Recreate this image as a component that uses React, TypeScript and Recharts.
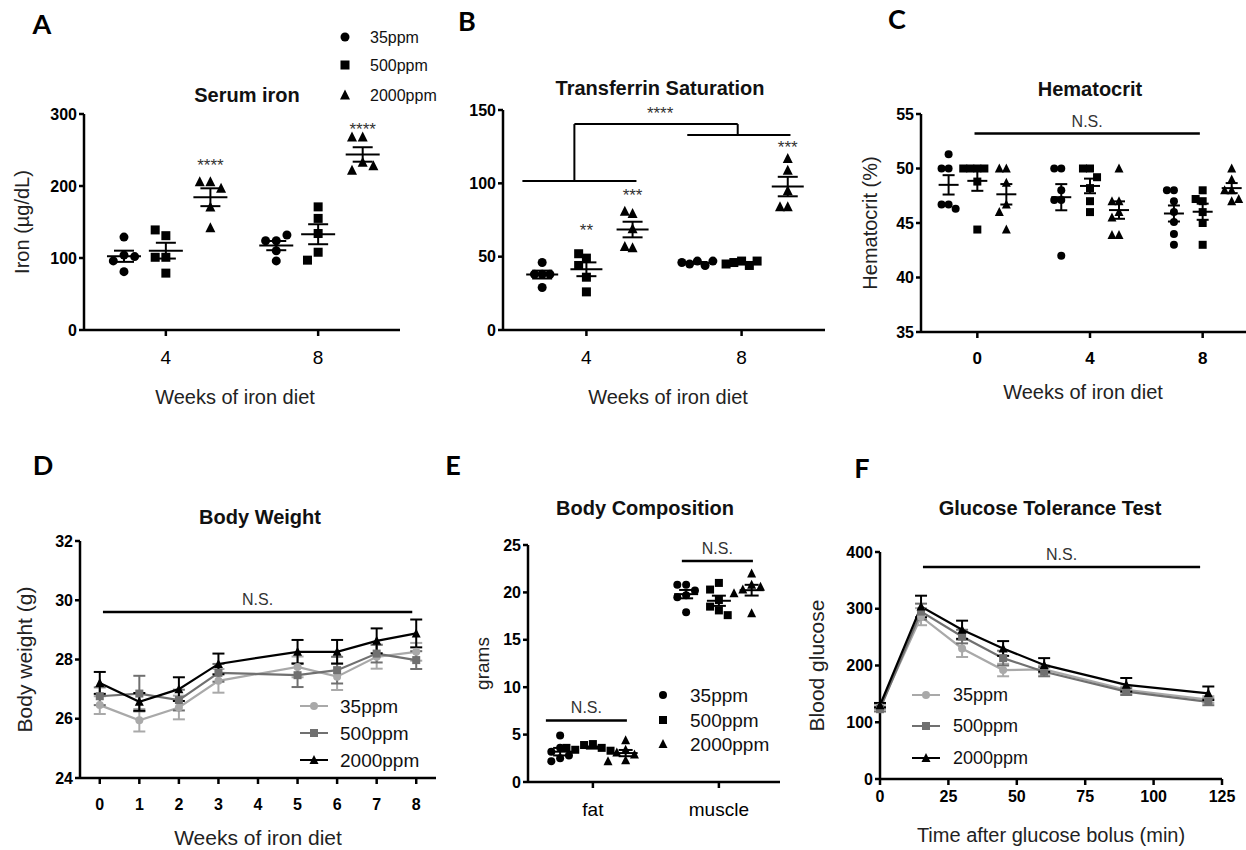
import React from 'react';
import {
  ScatterChart,
  Scatter,
  LineChart,
  Line,
  XAxis,
  YAxis,
  ErrorBar,
  ReferenceLine,
  ReferenceDot,
  Legend,
} from 'recharts';

const FONT = '"Liberation Sans", Arial, Helvetica, sans-serif';
const doses = ['35ppm', '500ppm', '2000ppm'];

// A: serum iron (ug/dL), one row per week, 5 mice each
const ironWeeks = [4, 8];
const iron35 = [[129, 81, 104, 96, 102], [124, 124, 132, 110, 96]];
const iron500 = [[131, 139, 101, 101, 79], [171, 155, 134, 108, 97]];
const iron2000 = [[206, 206, 197, 171, 142], [268, 268, 233, 222, 228]];
const ironStars = [
  { x: 5.17, y: 229, text: '****' },
  { x: 9.17, y: 279, text: '****' },
];

// B: transferrin saturation (%)
const satWeeks = [4, 8];
const sat35 = [[46, 38, 38, 29, 38], [47, 45, 44, 46, 47]];
const sat500 = [[49, 52, 44, 36, 26], [47, 46, 44, 45, 47]];
const sat2000 = [[79.5, 81, 69, 56, 57], [117, 109, 95, 84, 84]];
const satStars = [
  { x: 4, y: 68, text: '**' },
  { x: 5.19, y: 92, text: '***' },
  { x: 9.19, y: 125, text: '***' },
  { x: 5.9, y: 148, text: '****' },
];
const satBrackets = [
  [[2.35, 101.6], [5.29, 101.6]],
  [[3.69, 101.6], [3.69, 140.4]],
  [[3.69, 140.4], [7.9, 140.4]],
  [[7.9, 140.4], [7.9, 133]],
  [[6.6, 133], [9.26, 133]],
];

// C: hematocrit (%)
const hctWeeks = [0, 4, 8];
const hct35 = [[51.3, 50, 50, 46.7, 46.7, 46.3], [50, 50, 48, 47.1, 47.1, 42], [48, 48, 47, 46, 45.1, 44, 43]];
const hct500 = [[50, 50, 50, 50, 48.8, 44.4], [50, 50, 49.2, 48.2, 47, 46], [48, 47.2, 47, 46, 45, 43]];
const hct2000 = [[50, 50, 48.7, 46.7, 46, 44.4], [50, 47, 47, 46, 45.5, 43.9, 43.9], [50, 49, 48, 48, 47.2, 47]];
const hctNS = [[-0.1, 53.2], [7.9, 53.2]];

// D: body weight (g), mean and SEM
const bwWeeks = [0, 1, 2, 3, 5, 6, 7, 8];
const bwTicks = [0, 1, 2, 3, 4, 5, 6, 7, 8];
const bw35 = [26.46, 25.95, 26.38, 27.28, 27.75, 27.42, 28.09, 28.26];
const bw500 = [26.76, 26.85, 26.63, 27.55, 27.47, 27.64, 28.2, 27.98];
const bw2000 = [27.21, 26.57, 27.0, 27.85, 28.26, 28.26, 28.63, 28.88];
const bw35Sem = [0.3, 0.38, 0.4, 0.4, 0.35, 0.45, 0.4, 0.3];
const bw500Sem = [0.3, 0.6, 0.35, 0.3, 0.4, 0.45, 0.3, 0.3];
const bw2000Sem = [0.37, 0.3, 0.4, 0.35, 0.4, 0.4, 0.42, 0.47];
const bwNS = [[0.08, 29.6], [7.9, 29.6]];

// E: body composition (g)
const compParts = ['fat', 'muscle'];
const comp35 = [[4.9, 3.6, 3.2, 2.8, 2.5, 2.2], [20.8, 20.8, 20.2, 19.7, 19.5, 17.9]];
const comp500 = [[4.0, 3.9, 3.6, 3.4, 3.3, 3.6], [21, 20.3, 19.2, 18.5, 18.1, 17.6]];
const comp2000 = [[4.4, 3.4, 3.1, 2.9, 2.3, 2.2], [22, 20.8, 20.3, 20.6, 19.9, 17.8]];
const compNS = [
  [[0.627, 6.5], [1.27, 6.5]],
  [[1.706, 23.3], [2.27, 23.3]],
];

// F: glucose tolerance test, mean and SEM
const gttTimes = [0, 15, 30, 45, 60, 90, 120];
const gttTicks = [0, 25, 50, 75, 100, 125];
const gtt35 = [127, 286, 230, 192, 193, 157, 140];
const gtt500 = [123, 295, 251, 213, 189, 154, 136];
const gtt2000 = [130, 304, 263, 230, 201, 166, 151];
const gtt35Sem = [4, 15, 15, 11, 7, 6, 6];
const gtt500Sem = [4, 14, 12, 13, 8, 6, 6];
const gtt2000Sem = [4, 19, 16, 13, 12, 12, 12];
const gttNS = [[15.7, 373.6], [117, 373.6]];

const BLACK = '#000';
const GREYS = ['#a9a9a9', '#707070', '#000'];
const NOTE = '#333';
const axisStroke = { stroke: BLACK, strokeWidth: 2.5 };

const YW = 60;
const ML = 20;
const MT = 12;
const MR = 30;
const XH = 80;

type Box = [number, number, number, number];
type Frame = { left: number; top: number; width: number; height: number; margin: any };

const frame = (b: Box): Frame => ({
  left: b[0] - YW - ML,
  top: b[1] - MT,
  width: ML + YW + (b[2] - b[0]) + MR,
  height: MT + (b[3] - b[1]) + XH,
  margin: { top: MT, right: MR, bottom: 0, left: ML },
});

const mean = (v: number[]) => v.reduce((a, b) => a + b, 0) / v.length;
const sem = (v: number[]) => {
  const m = mean(v);
  const sd = Math.sqrt(v.reduce((a, b) => a + (b - m) ** 2, 0) / (v.length - 1));
  return sd / Math.sqrt(v.length);
};

// push overlapping dots sideways, like a GraphPad scatter dot plot
const slots = [0, -1, 1, -2, 2, -3, 3];
function spread(values: number[], center: number, yTol: number, step: number) {
  const placed: { x: number; y: number; slot: number }[] = [];
  values.forEach((y) => {
    const used = placed.filter((p) => Math.abs(p.y - y) < yTol).map((p) => p.slot);
    const slot = slots.find((s) => !used.includes(s)) ?? 0;
    placed.push({ x: center + slot * step, y, slot });
  });
  return placed;
}

function Mark({ cx, cy, kind, size, fill }: any) {
  if (cx == null || cy == null) return null;
  const h = size / 2;
  if (kind === 0) return <circle cx={cx} cy={cy} r={h} fill={fill} />;
  if (kind === 1) return <rect x={cx - h} y={cy - h} width={size} height={size} fill={fill} />;
  return (
    <polygon
      points={`${cx},${cy - h - 1} ${cx - h - 0.5},${cy + h} ${cx + h + 0.5},${cy + h}`}
      fill={fill}
    />
  );
}

type LegendSpec = { markerX: number; textX: number; rows: number[]; fontSize: number; size: number; line?: boolean };

function doseLegend(spec: LegendSpec, f: Frame) {
  const x0 = spec.markerX - 20;
  const y0 = spec.rows[0] - 16;
  const w = 150;
  const h = spec.rows[spec.rows.length - 1] - y0 + 16;
  return (
    <Legend
      layout="vertical"
      align="center"
      verticalAlign="middle"
      wrapperStyle={{ left: x0 - f.left, top: y0 - f.top, width: w, height: h }}
      content={() => (
        <svg width={w} height={h} style={{ display: 'block', overflow: 'visible' }}>
          {doses.map((d, i) => {
            const mx = spec.markerX - x0;
            const my = spec.rows[i] - y0;
            const color = spec.line ? GREYS[i] : BLACK;
            return (
              <g key={d}>
                {spec.line && <line x1={mx - 14} x2={mx + 14} y1={my} y2={my} stroke={color} strokeWidth={2} />}
                <Mark cx={mx} cy={my} kind={i} size={spec.size} fill={color} />
                <text x={spec.textX - x0} y={my} dy="0.36em" fontSize={spec.fontSize} fill="#111">
                  {d}
                </text>
              </g>
            );
          })}
        </svg>
      )}
    />
  );
}

const yLabelProps = (value: string, box: Box, x: number, size: number) => ({
  value,
  angle: -90,
  position: 'insideLeft',
  offset: x - box[0] + YW,
  fontSize: size,
  fill: '#222',
  style: { textAnchor: 'middle' },
});

const xLabelProps = (value: string, box: Box, y: number, size: number, dx = 0) => ({
  value,
  position: 'insideBottom',
  offset: box[3] + XH - y - size * 0.36,
  fontSize: size,
  fill: '#222',
  dx,
});

const segment = (s: number[][]) => [
  { x: s[0][0], y: s[0][1] },
  { x: s[1][0], y: s[1][1] },
];

type AxisSpec = {
  box: Box;
  xDomain: [number, number];
  xTicks: number[];
  tickFormat?: (v: number) => string;
  xTick: any;
  xTickMargin: number;
  yDomain: [number, number];
  yTicks: number[];
  yLabel?: string;
  yLabelX?: number;
  yLabelSize?: number;
  xLabel?: string;
  xLabelY?: number;
  xLabelSize?: number;
  xLabelDx?: number;
};

const boldTick = { fill: BLACK, fontSize: 16, fontWeight: 700 };

function axes(p: AxisSpec, yKey?: string) {
  return [
    <XAxis
      key="x"
      type="number"
      dataKey="x"
      domain={p.xDomain}
      ticks={p.xTicks}
      interval={0}
      tickFormatter={p.tickFormat}
      height={XH}
      axisLine={axisStroke}
      tickLine={axisStroke}
      tickSize={6}
      tickMargin={p.xTickMargin}
      tick={p.xTick}
      label={p.xLabel ? xLabelProps(p.xLabel, p.box, p.xLabelY!, p.xLabelSize ?? 20, p.xLabelDx) : undefined}
    />,
    <YAxis
      key="y"
      type="number"
      dataKey={yKey}
      domain={p.yDomain}
      ticks={p.yTicks}
      interval={0}
      width={YW}
      axisLine={axisStroke}
      tickLine={axisStroke}
      tickSize={5}
      tickMargin={2}
      tick={boldTick}
      label={p.yLabel ? yLabelProps(p.yLabel, p.box, p.yLabelX!, p.yLabelSize ?? 20) : undefined}
    />,
  ];
}

type DotPlotProps = AxisSpec & {
  series: number[][][];
  offsets: number[];
  yTol: number;
  step: number;
  size: number;
  meanHalf: number;
  capHalf: number;
  legend?: LegendSpec;
  children?: React.ReactNode;
};

function DotPlot(p: DotPlotProps) {
  const f = frame(p.box);
  return (
    <div style={{ position: 'absolute', left: f.left, top: f.top }}>
      <ScatterChart width={f.width} height={f.height} margin={f.margin}>
        {axes(p, 'y')}
        {p.children}
        {p.series.map((byGroup, d) => (
          <Scatter
            key={doses[d]}
            name={doses[d]}
            isAnimationActive={false}
            data={byGroup.flatMap((vals, g) => spread(vals, p.xTicks[g] + p.offsets[d], p.yTol, p.step))}
            shape={(s: any) => <Mark cx={s.cx} cy={s.cy} kind={d} size={p.size} fill={BLACK} />}
          />
        ))}
        {p.series.map((byGroup, d) => (
          <Scatter
            key={`mean-${doses[d]}`}
            legendType="none"
            isAnimationActive={false}
            data={byGroup.map((vals, g) => ({ x: p.xTicks[g] + p.offsets[d], y: mean(vals), sem: sem(vals) }))}
            shape={(s: any) => (
              <line x1={s.cx - p.meanHalf} x2={s.cx + p.meanHalf} y1={s.cy} y2={s.cy} stroke={BLACK} strokeWidth={2} />
            )}
          >
            <ErrorBar dataKey="sem" direction="y" width={p.capHalf} stroke={BLACK} strokeWidth={2} />
          </Scatter>
        ))}
        {p.legend && doseLegend(p.legend, f)}
      </ScatterChart>
    </div>
  );
}

type LinePlotProps = AxisSpec & {
  xs: number[];
  series: number[][];
  errors: number[][];
  size: number;
  capHalf: number;
  legend: LegendSpec;
  children?: React.ReactNode;
};

function LinePlot(p: LinePlotProps) {
  const f = frame(p.box);
  const table = p.xs.map((x, i) => ({
    x,
    v0: p.series[0][i],
    v1: p.series[1][i],
    v2: p.series[2][i],
    e0: p.errors[0][i],
    e1: p.errors[1][i],
    e2: p.errors[2][i],
  }));
  return (
    <div style={{ position: 'absolute', left: f.left, top: f.top }}>
      <LineChart width={f.width} height={f.height} margin={f.margin} data={table}>
        {axes(p)}
        {p.children}
        {doses.map((d, i) => (
          <Line
            key={d}
            name={d}
            dataKey={`v${i}`}
            type="linear"
            stroke={GREYS[i]}
            strokeWidth={2.2}
            isAnimationActive={false}
            activeDot={false}
            dot={(s: any) => <Mark key={`${d}-${s.index}`} cx={s.cx} cy={s.cy} kind={i} size={p.size} fill={GREYS[i]} />}
          >
            <ErrorBar dataKey={`e${i}`} direction="y" width={p.capHalf} stroke={GREYS[i]} strokeWidth={2} />
          </Line>
        ))}
        {doseLegend(p.legend, f)}
      </LineChart>
    </div>
  );
}

const nsLabel = { value: 'N.S.', position: 'top', offset: 7, fontSize: 16, fill: NOTE };
const starLabel = (text: string) => ({ value: text, position: 'center', fontSize: 17, fill: NOTE });

const panelLetters = [
  { text: 'A', x: 42, y: 23 },
  { text: 'B', x: 467, y: 20 },
  { text: 'C', x: 897, y: 18 },
  { text: 'D', x: 43, y: 464 },
  { text: 'E', x: 453, y: 464 },
  { text: 'F', x: 862, y: 467 },
];
const panelTitles = [
  { text: 'Serum iron', x: 247, y: 95 },
  { text: 'Transferrin Saturation', x: 660, y: 88 },
  { text: 'Hematocrit', x: 1090, y: 89 },
  { text: 'Body Weight', x: 260, y: 517 },
  { text: 'Body Composition', x: 645, y: 508 },
  { text: 'Glucose Tolerance Test', x: 1050, y: 508 },
];

const centered = (x: number, y: number): React.CSSProperties => ({
  position: 'absolute',
  left: x,
  top: y,
  transform: 'translate(-50%, -50%)',
  whiteSpace: 'nowrap',
  lineHeight: 1,
});

export default function App() {
  return (
    <div
      style={{
        position: 'absolute',
        left: 0,
        top: 0,
        width: 1246,
        height: 850,
        overflow: 'hidden',
        background: '#fff',
        fontFamily: FONT,
      }}
    >
      <DotPlot
        box={[84, 114, 400, 330]}
        xDomain={[1.85, 10.15]}
        xTicks={ironWeeks}
        xTick={{ fill: BLACK, fontSize: 19 }}
        xTickMargin={15}
        yDomain={[0, 300]}
        yTicks={[0, 100, 200, 300]}
        yLabel="Iron (µg/dL)"
        yLabelX={22}
        xLabel="Weeks of iron diet"
        xLabelY={397}
        xLabelDx={-7}
        series={[iron35, iron500, iron2000]}
        offsets={[-1.1, 0, 1.17]}
        yTol={14}
        step={0.28}
        size={9}
        meanHalf={17}
        capHalf={10}
        legend={{ markerX: 345, textX: 370, rows: [37, 65, 95], fontSize: 16, size: 9 }}
      >
        {ironStars.map((s) => (
          <ReferenceDot key={s.x} x={s.x} y={s.y} r={0} stroke="none" fill="none" label={starLabel(s.text)} />
        ))}
      </DotPlot>

      <DotPlot
        box={[503, 110, 825, 330]}
        xDomain={[1.85, 10.15]}
        xTicks={satWeeks}
        xTick={{ fill: BLACK, fontSize: 19 }}
        xTickMargin={15}
        yDomain={[0, 150]}
        yTicks={[0, 50, 100, 150]}
        xLabel="Weeks of iron diet"
        xLabelY={397}
        xLabelDx={4}
        series={[sat35, sat500, sat2000]}
        offsets={[-1.14, 0, 1.19]}
        yTol={7}
        step={0.2}
        size={9}
        meanHalf={16}
        capHalf={10}
      >
        {satBrackets.map((s, i) => (
          <ReferenceLine key={`br${i}`} segment={segment(s)} stroke={BLACK} strokeWidth={2} />
        ))}
        {satStars.map((s) => (
          <ReferenceDot key={`st${s.x}`} x={s.x} y={s.y} r={0} stroke="none" fill="none" label={starLabel(s.text)} />
        ))}
      </DotPlot>

      <DotPlot
        box={[921, 114, 1259, 332]}
        xDomain={[-2, 10]}
        xTicks={hctWeeks}
        xTick={{ fill: BLACK, fontSize: 17, fontWeight: 700 }}
        xTickMargin={14}
        yDomain={[35, 55]}
        yTicks={[35, 40, 45, 50, 55]}
        yLabel="Hematocrit (%)"
        yLabelX={870}
        xLabel="Weeks of iron diet"
        xLabelY={392}
        xLabelDx={-7}
        series={[hct35, hct500, hct2000]}
        offsets={[-1.02, 0, 1.03]}
        yTol={0.8}
        step={0.25}
        size={8}
        meanHalf={10}
        capHalf={6}
      >
        <ReferenceLine segment={segment(hctNS)} stroke={BLACK} strokeWidth={2.5} label={nsLabel} />
      </DotPlot>

      <LinePlot
        box={[80, 541, 436, 778]}
        xDomain={[-0.5, 8.5]}
        xTicks={bwTicks}
        xTick={{ fill: BLACK, fontSize: 16, fontWeight: 700 }}
        xTickMargin={15}
        yDomain={[24, 32]}
        yTicks={[24, 26, 28, 30, 32]}
        yLabel="Body weight (g)"
        yLabelX={25}
        yLabelSize={21}
        xLabel="Weeks of iron diet"
        xLabelY={837}
        xLabelSize={21}
        xs={bwWeeks}
        series={[bw35, bw500, bw2000]}
        errors={[bw35Sem, bw500Sem, bw2000Sem]}
        size={8}
        capHalf={6}
        legend={{ markerX: 314, textX: 340, rows: [706, 733, 760], fontSize: 19, size: 8, line: true }}
      >
        <ReferenceLine segment={segment(bwNS)} stroke={BLACK} strokeWidth={2.5} label={nsLabel} />
      </LinePlot>

      <DotPlot
        box={[528, 545, 780, 782]}
        xDomain={[0.485, 2.485]}
        xTicks={[1, 2]}
        tickFormat={(v) => compParts[v - 1]}
        xTick={{ fill: BLACK, fontSize: 19 }}
        xTickMargin={15}
        yDomain={[0, 25]}
        yTicks={[0, 5, 10, 15, 20, 25]}
        yLabel="grams"
        yLabelX={482}
        yLabelSize={19}
        series={[comp35, comp500, comp2000]}
        offsets={[-0.26, 0, 0.26]}
        yTol={1}
        step={0.07}
        size={8}
        meanHalf={12}
        capHalf={7}
        legend={{ markerX: 663, textX: 690, rows: [695, 720, 744], fontSize: 19, size: 8 }}
      >
        {compNS.map((s, i) => (
          <ReferenceLine key={`ns${i}`} segment={segment(s)} stroke={BLACK} strokeWidth={2.5} label={nsLabel} />
        ))}
      </DotPlot>

      <LinePlot
        box={[880, 552, 1222, 779]}
        xDomain={[0, 125]}
        xTicks={gttTicks}
        xTick={{ fill: BLACK, fontSize: 16, fontWeight: 700 }}
        xTickMargin={6}
        yDomain={[0, 400]}
        yTicks={[0, 100, 200, 300, 400]}
        yLabel="Blood glucose"
        yLabelX={817}
        yLabelSize={21}
        xLabel="Time after glucose bolus (min)"
        xLabelY={835}
        xs={gttTimes}
        series={[gtt35, gtt500, gtt2000]}
        errors={[gtt35Sem, gtt500Sem, gtt2000Sem]}
        size={8}
        capHalf={6}
        legend={{ markerX: 926, textX: 953, rows: [695, 726, 758], fontSize: 18, size: 8, line: true }}
      >
        <ReferenceLine segment={segment(gttNS)} stroke={BLACK} strokeWidth={2.5} label={nsLabel} />
      </LinePlot>

      {panelTitles.map((t) => (
        <div key={t.text} style={{ ...centered(t.x, t.y), fontSize: 20, fontWeight: 700, color: '#111' }}>
          {t.text}
        </div>
      ))}
      {panelLetters.map((t) => (
        <div key={t.text} style={{ ...centered(t.x, t.y), fontSize: 27, fontWeight: 700, fontFamily: 'Lato, "Open Sans", sans-serif' }}>
          {t.text}
        </div>
      ))}
    </div>
  );
}
